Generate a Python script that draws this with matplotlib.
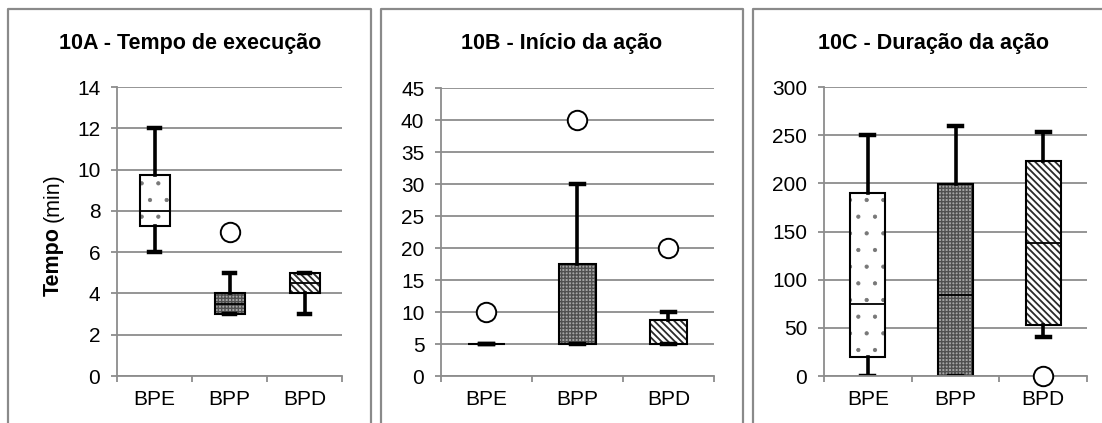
import matplotlib
matplotlib.use("Agg")
import matplotlib.pyplot as plt
from matplotlib.patches import PathPatch
from matplotlib.lines import Line2D

plt.rcParams["font.family"] = ["Liberation Sans", "DejaVu Sans"]
plt.rcParams["hatch.linewidth"] = 1.3

groups = ["BPE", "BPP", "BPD"]

# box statistics: (whislo, q1, med, q3, whishi, fliers)
tempo_exec = [(6, 7.25, 8, 9.75, 12, []), (3, 3, 3.5, 4, 5, [7]), (3, 4, 4.5, 5, 5, [])]
inicio_acao = [(5, 5, 5, 5, 5, [10]), (5, 5, 5, 17.5, 30, [40]), (5, 5, 5, 8.8, 10, [20])]
duracao_acao = [(0, 20, 75, 190, 250, []), (0, 0, 84, 199, 259, []), (40, 53, 138, 223, 253, [0])]

titles = ["10A - Tempo de execução", "10B - Início da ação", "10C - Duração da ação"]
yticks = [range(0, 15, 2), range(0, 46, 5), range(0, 301, 50)]
ylims = [(0, 14), (0, 45), (0, 300)]

# fill, hatch colour, hatch, hatch width for each group
styles = [("white", "#777777", ".", 0.6),
          ("#a6a6a6", "#505050", "+++++", 1.0),
          ("white", "#2a2a2a", "\\\\\\\\\\", 1.3)]

W, H = 1102, 423
fig = plt.figure(figsize=(W / 100, H / 100), dpi=100)

axes_px = [(117, 342, 87, 376), (441, 714, 88, 376), (824, 1087, 87, 376)]
frames_px = [(8, 371), (381, 743), (753, 1130)]
title_x = [190, 562, 934]

grey = "#8c8c8c"
fs = 15

for i, data in enumerate([tempo_exec, inicio_acao, duracao_acao]):
    x0, x1, y0, y1 = axes_px[i]
    ax = fig.add_axes([x0 / W, 1 - y1 / H, (x1 - x0) / W, (y1 - y0) / H])
    stats = [dict(whislo=d[0], q1=d[1], med=d[2], q3=d[3], whishi=d[4], fliers=d[5], label=g)
             for d, g in zip(data, groups)]
    res = ax.bxp(stats, positions=[1, 2, 3], widths=0.4, capwidths=0.15, patch_artist=True,
                 showfliers=True,
                 boxprops=dict(edgecolor="black", linewidth=1.5),
                 medianprops=dict(color="black", linewidth=1.3),
                 whiskerprops=dict(color="black", linewidth=2.6),
                 capprops=dict(color="black", linewidth=3.2),
                 flierprops=dict(marker="o", markersize=14, markerfacecolor="white",
                                 markeredgecolor="black", markeredgewidth=1.4))
    for box, (fc, hc, h, hw) in zip(res["boxes"], styles):
        fill = PathPatch(box.get_path(), facecolor=fc, edgecolor=hc, hatch=h, linewidth=0,
                         zorder=box.get_zorder() - 0.1)
        if hasattr(fill, "set_hatch_linewidth"):
            fill.set_hatch_linewidth(hw)
        ax.add_patch(fill)
        box.set_facecolor("none")
    for fl in res["fliers"]:
        fl.set_zorder(5)
        fl.set_clip_on(False)

    ax.set_xlim(0.5, 3.5)
    ax.set_ylim(*ylims[i])
    ax.set_yticks(list(yticks[i]))
    ax.set_xticks([1, 2, 3])
    ax.set_xticklabels(groups)
    ax.set_xticks([0.5, 1.5, 2.5, 3.5], minor=True)
    ax.tick_params(axis="x", which="major", length=0, pad=10, labelsize=fs)
    ax.tick_params(axis="x", which="minor", length=4, width=1.3, color=grey)
    ax.tick_params(axis="y", length=4, width=1.3, color=grey, pad=8, labelsize=fs)
    ax.grid(axis="y", color=grey, linewidth=1.3)
    ax.set_axisbelow(True)
    for s in ["top", "right"]:
        ax.spines[s].set_visible(False)
    for s in ["left", "bottom"]:
        ax.spines[s].set_color(grey)
        ax.spines[s].set_linewidth(1.3)

    fig.text(title_x[i] / W, 1 - 43 / H, titles[i], ha="center", va="center",
             fontsize=15.5, fontweight="bold")

    fx0, fx1 = frames_px[i]
    frame = [(fx0, H + 5), (fx0, 9), (fx1, 9), (fx1, H + 5)]
    fig.add_artist(Line2D([p[0] / W for p in frame], [1 - p[1] / H for p in frame],
                          color="#8a8a8a", linewidth=1.6))

# y label: bold "Tempo" plus normal "(min)", placed right after it
t1 = fig.text(53 / W, 1 - 296 / H, "Tempo", rotation=90, ha="center", va="bottom",
              fontsize=15.5, fontweight="bold")
fig.canvas.draw()
top = t1.get_window_extent().y1
fig.text(53 / W, (top + 5) / H, "(min)", rotation=90, ha="center", va="bottom",
         fontsize=15.5)

fig.savefig("out.png", dpi=100)
